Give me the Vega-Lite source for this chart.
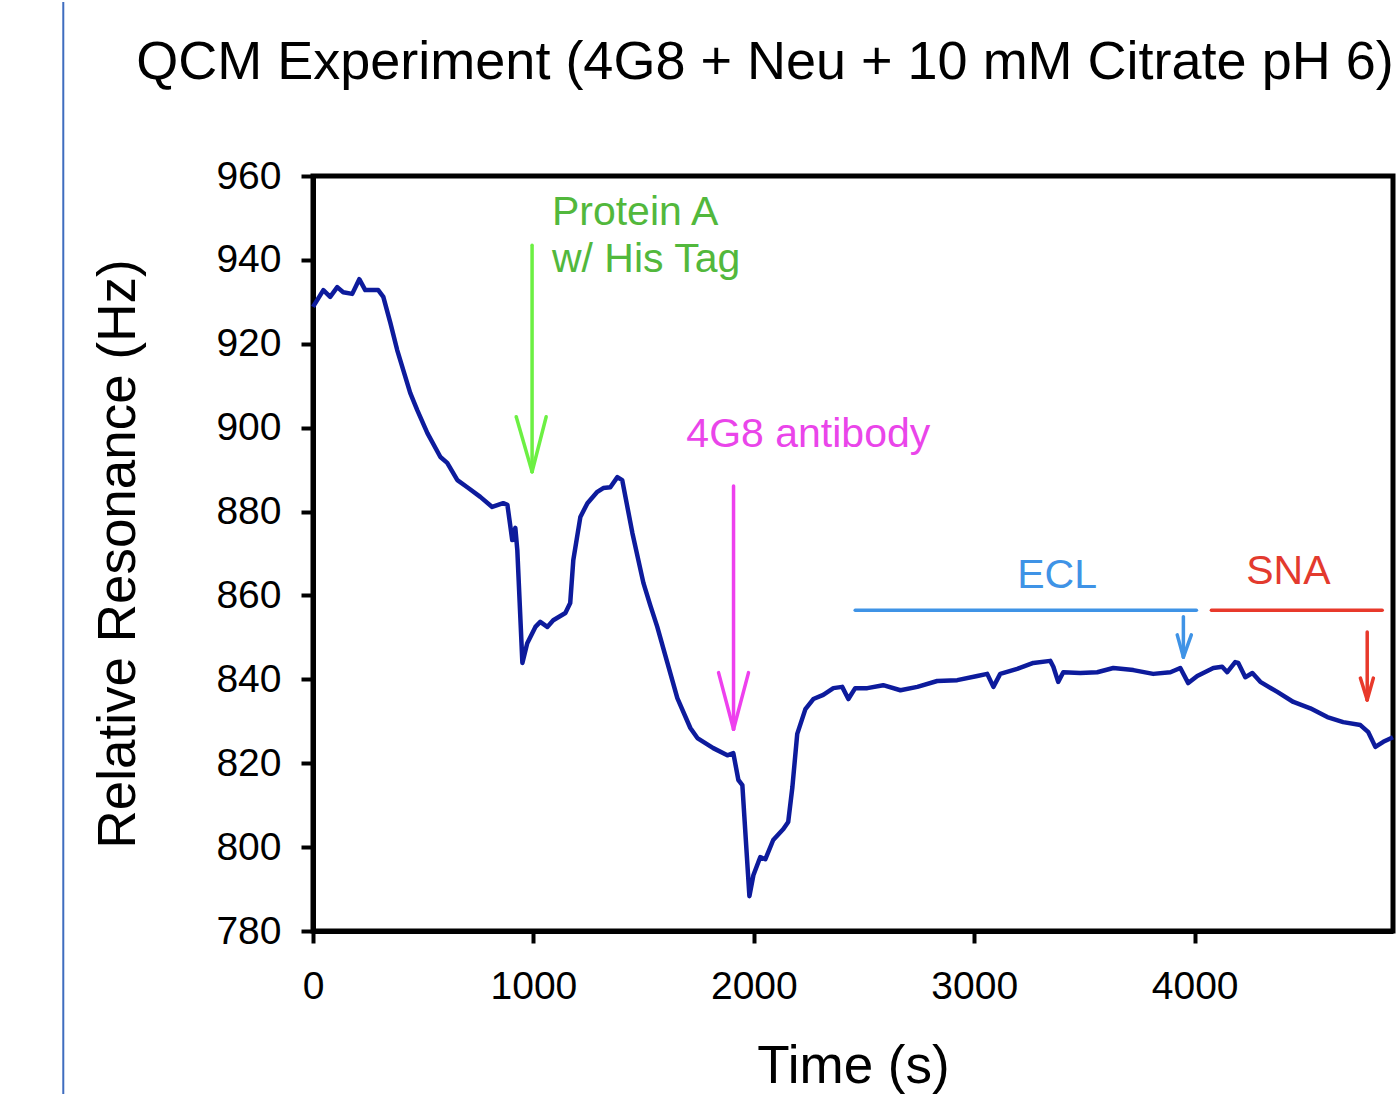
{
  "$schema": "https://vega.github.io/schema/vega-lite/v6.json",
  "autosize": "none",
  "width": 1080,
  "height": 755,
  "padding": {"left": 313, "top": 176, "right": 7, "bottom": 163},
  "background": "white",
  "title": {
    "text": "QCM Experiment (4G8 + Neu + 10 mM Citrate pH 6)",
    "font": "Liberation Sans",
    "fontSize": 54,
    "fontWeight": "normal",
    "color": "black",
    "anchor": "middle",
    "frame": "group",
    "baseline": "alphabetic",
    "dx": -88,
    "offset": -132
  },
  "config": {
    "view": {"stroke": "black", "strokeWidth": 5},
    "axis": {
      "grid": false,
      "domainColor": "black",
      "domainWidth": 5,
      "tickColor": "black",
      "tickWidth": 4,
      "tickSize": 12,
      "labelFont": "Liberation Sans",
      "labelFontSize": 39,
      "labelColor": "black",
      "labelFlush": false,
      "titleFont": "Liberation Sans",
      "titleFontSize": 53,
      "titleFontWeight": "normal",
      "titleColor": "black"
    }
  },
  "datasets": {
    "curve": [
      {"t": 0, "v": 928.8}, {"t": 47, "v": 932.8}, {"t": 78, "v": 931.2}, {"t": 110, "v": 933.5},
      {"t": 137, "v": 932.3}, {"t": 178, "v": 931.9}, {"t": 210, "v": 935.4}, {"t": 237, "v": 932.8},
      {"t": 296, "v": 932.8}, {"t": 319, "v": 931.2}, {"t": 351, "v": 925.0}, {"t": 382, "v": 918.5},
      {"t": 441, "v": 908.3}, {"t": 473, "v": 904.2}, {"t": 519, "v": 898.7}, {"t": 578, "v": 893.0},
      {"t": 609, "v": 891.6}, {"t": 655, "v": 887.5}, {"t": 700, "v": 885.8}, {"t": 759, "v": 883.5},
      {"t": 813, "v": 881.1}, {"t": 863, "v": 882.0}, {"t": 882, "v": 881.6}, {"t": 904, "v": 873.2},
      {"t": 918, "v": 876.1}, {"t": 927, "v": 870.8}, {"t": 950, "v": 843.9}, {"t": 972, "v": 848.6},
      {"t": 1009, "v": 852.5}, {"t": 1031, "v": 853.7}, {"t": 1063, "v": 852.5}, {"t": 1090, "v": 854.1},
      {"t": 1145, "v": 855.8}, {"t": 1167, "v": 858.2}, {"t": 1181, "v": 868.4}, {"t": 1213, "v": 878.7},
      {"t": 1245, "v": 882.0}, {"t": 1290, "v": 884.7}, {"t": 1317, "v": 885.6}, {"t": 1349, "v": 885.8},
      {"t": 1381, "v": 888.2}, {"t": 1403, "v": 887.5}, {"t": 1449, "v": 874.9}, {"t": 1499, "v": 863.0},
      {"t": 1530, "v": 857.7}, {"t": 1562, "v": 852.5}, {"t": 1607, "v": 844.1}, {"t": 1653, "v": 835.5},
      {"t": 1712, "v": 828.4}, {"t": 1744, "v": 826.0}, {"t": 1816, "v": 823.6}, {"t": 1880, "v": 821.9},
      {"t": 1907, "v": 822.4}, {"t": 1930, "v": 816.0}, {"t": 1948, "v": 814.8}, {"t": 1980, "v": 788.3},
      {"t": 1998, "v": 793.3}, {"t": 2029, "v": 797.6}, {"t": 2052, "v": 797.1}, {"t": 2088, "v": 801.7},
      {"t": 2134, "v": 804.3}, {"t": 2156, "v": 806.0}, {"t": 2175, "v": 814.3}, {"t": 2197, "v": 827.0},
      {"t": 2234, "v": 832.9}, {"t": 2270, "v": 835.3}, {"t": 2315, "v": 836.3}, {"t": 2361, "v": 837.9},
      {"t": 2401, "v": 838.2}, {"t": 2429, "v": 835.3}, {"t": 2460, "v": 837.9}, {"t": 2515, "v": 837.9},
      {"t": 2587, "v": 838.6}, {"t": 2665, "v": 837.4}, {"t": 2742, "v": 838.2}, {"t": 2832, "v": 839.6},
      {"t": 2923, "v": 839.8}, {"t": 3014, "v": 840.8}, {"t": 3059, "v": 841.3}, {"t": 3087, "v": 838.2},
      {"t": 3118, "v": 841.3}, {"t": 3195, "v": 842.5}, {"t": 3268, "v": 843.9}, {"t": 3345, "v": 844.4},
      {"t": 3359, "v": 843.0}, {"t": 3381, "v": 839.4}, {"t": 3404, "v": 841.7}, {"t": 3481, "v": 841.5},
      {"t": 3558, "v": 841.7}, {"t": 3631, "v": 842.7}, {"t": 3722, "v": 842.2}, {"t": 3812, "v": 841.3},
      {"t": 3890, "v": 841.7}, {"t": 3935, "v": 842.7}, {"t": 3971, "v": 839.1}, {"t": 4012, "v": 840.8},
      {"t": 4085, "v": 842.7}, {"t": 4125, "v": 843.0}, {"t": 4148, "v": 841.7}, {"t": 4184, "v": 844.1},
      {"t": 4198, "v": 843.9}, {"t": 4230, "v": 840.5}, {"t": 4262, "v": 841.5}, {"t": 4298, "v": 839.4},
      {"t": 4375, "v": 837.0}, {"t": 4448, "v": 834.6}, {"t": 4525, "v": 833.1}, {"t": 4602, "v": 831.0},
      {"t": 4674, "v": 829.8}, {"t": 4752, "v": 829.1}, {"t": 4788, "v": 827.4}, {"t": 4820, "v": 823.9},
      {"t": 4856, "v": 825.1}, {"t": 4900, "v": 826.2}
    ],
    "segs": [
      {"step": "Protein A", "t": 994, "v": 943.5, "t2": 994, "v2": 889.5},
      {"step": "Protein A", "t": 922, "v": 902.6, "t2": 994, "v2": 889.5},
      {"step": "Protein A", "t": 1058, "v": 902.6, "t2": 994, "v2": 889.5},
      {"step": "4G8", "t": 1908, "v": 886.1, "t2": 1908, "v2": 828.1},
      {"step": "4G8", "t": 1840, "v": 841.6, "t2": 1908, "v2": 828.1},
      {"step": "4G8", "t": 1976, "v": 841.6, "t2": 1908, "v2": 828.1},
      {"step": "ECL", "t": 2460, "v": 856.5, "t2": 4008, "v2": 856.5},
      {"step": "ECL", "t": 3949, "v": 854.9, "t2": 3949, "v2": 845.3},
      {"step": "ECL", "t": 3921, "v": 850.6, "t2": 3949, "v2": 845.3},
      {"step": "ECL", "t": 3985, "v": 850.6, "t2": 3949, "v2": 845.3},
      {"step": "SNA", "t": 4076, "v": 856.5, "t2": 4851, "v2": 856.5},
      {"step": "SNA", "t": 4783, "v": 851.3, "t2": 4783, "v2": 835.1},
      {"step": "SNA", "t": 4752, "v": 840.3, "t2": 4783, "v2": 835.1},
      {"step": "SNA", "t": 4811, "v": 840.3, "t2": 4783, "v2": 835.1}
    ],
    "labels": [
      {"step": "Protein A", "t": 1084, "v": 948.3, "label": "Protein A"},
      {"step": "Protein A", "t": 1084, "v": 937.1, "label": "w/ His Tag"},
      {"step": "4G8", "t": 1694, "v": 895.4, "label": "4G8 antibody"},
      {"step": "ECL", "t": 3195, "v": 861.8, "label": "ECL"},
      {"step": "SNA", "t": 4234, "v": 862.7, "label": "SNA"}
    ],
    "border": [
      {"t": -1133, "v": 1001.5, "v2": 735}
    ]
  },
  "layer": [
    {
      "data": {"name": "border"},
      "mark": {"type": "rule", "color": "#3F6DBF", "strokeWidth": 2, "clip": false},
      "encoding": {
        "x": {"field": "t", "type": "quantitative", "scale": {"domain": [0, 4900], "nice": false, "zero": false}},
        "y": {"field": "v", "type": "quantitative", "scale": {"domain": [780, 960], "nice": false, "zero": false}},
        "y2": {"field": "v2"}
      }
    },
    {
      "data": {"name": "curve"},
      "mark": {"type": "line", "color": "#0D1B9C", "strokeWidth": 4.5, "strokeJoin": "round"},
      "encoding": {
        "x": {
          "field": "t", "type": "quantitative",
          "scale": {"domain": [0, 4900], "nice": false, "zero": false},
          "axis": {"values": [0, 1000, 2000, 3000, 4000], "format": "d", "title": "Time (s)", "labelPadding": 24, "titlePadding": 34}
        },
        "y": {
          "field": "v", "type": "quantitative",
          "scale": {"domain": [780, 960], "nice": false, "zero": false},
          "axis": {"values": [780, 800, 820, 840, 860, 880, 900, 920, 940, 960], "format": "d", "title": "Relative Resonance (Hz)", "labelPadding": 20, "titlePadding": 70}
        }
      }
    },
    {
      "data": {"name": "segs"},
      "mark": {"type": "rule", "strokeWidth": 3.5, "strokeCap": "round"},
      "encoding": {
        "x": {"field": "t", "type": "quantitative"},
        "y": {"field": "v", "type": "quantitative"},
        "x2": {"field": "t2"},
        "y2": {"field": "v2"},
        "color": {
          "field": "step", "type": "nominal", "legend": null,
          "scale": {"domain": ["Protein A", "4G8", "ECL", "SNA"], "range": ["#6CF043", "#EE40EE", "#3F93E6", "#E8392B"]}
        }
      }
    },
    {
      "data": {"name": "labels"},
      "mark": {"type": "text", "font": "Liberation Sans", "fontSize": 41, "align": "left", "baseline": "alphabetic"},
      "encoding": {
        "x": {"field": "t", "type": "quantitative"},
        "y": {"field": "v", "type": "quantitative"},
        "text": {"field": "label"},
        "color": {
          "field": "step", "type": "nominal", "legend": null,
          "scale": {"domain": ["Protein A", "4G8", "ECL", "SNA"], "range": ["#52B83C", "#EA45EA", "#3F93E6", "#E33A2E"]}
        }
      }
    }
  ],
  "resolve": {"scale": {"color": "independent"}}
}
